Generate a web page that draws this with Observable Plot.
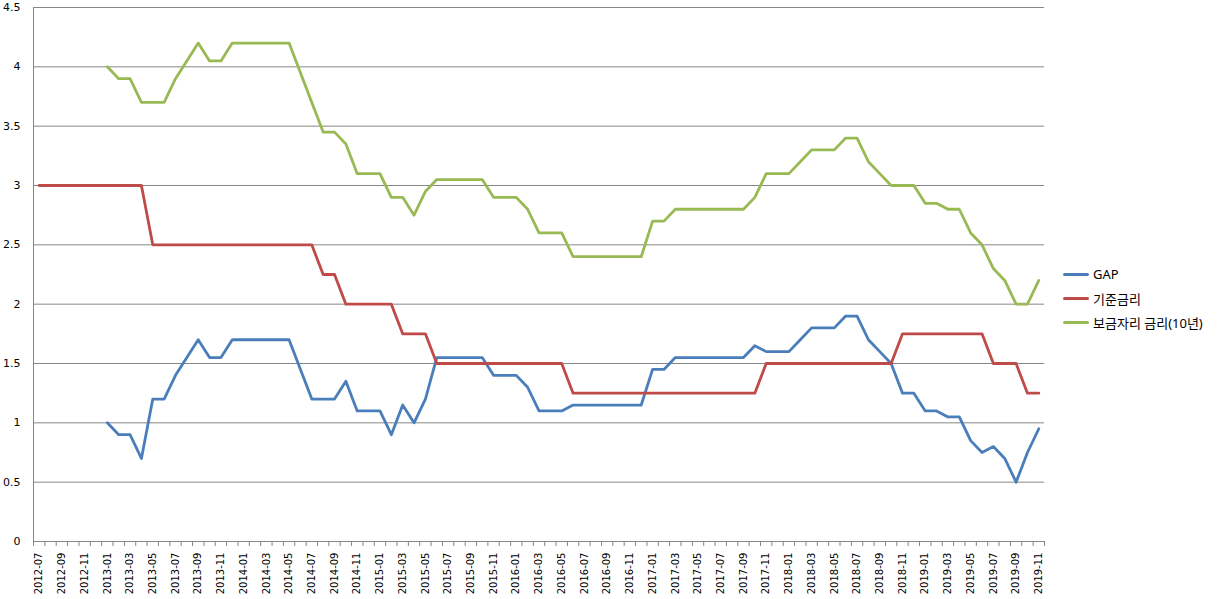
<!DOCTYPE html>
<html><head><meta charset="utf-8">
<script src="https://cdn.jsdelivr.net/npm/d3@7"></script>
<script src="https://cdn.jsdelivr.net/npm/@observablehq/plot@0.6"></script>
<style>
body{margin:0;background:#fff;}
#wrap{position:relative;width:1219px;height:599px;font-family:"DejaVu Sans","Noto Sans CJK KR",sans-serif;}
#legend{position:absolute;left:1063px;top:262px;font-size:13px;color:#000;font-family:"Noto Sans","Noto Sans CJK KR",sans-serif;}
.row{display:flex;align-items:center;height:24px;white-space:nowrap;}
.sw{width:26px;height:3px;margin-right:4px;border-radius:1.5px;}
</style></head><body><div id="wrap"><div id="legend"></div></div>
<script>
const months = [
"2012-07","2012-08","2012-09","2012-10","2012-11","2012-12",
"2013-01","2013-02","2013-03","2013-04","2013-05","2013-06","2013-07","2013-08","2013-09","2013-10","2013-11","2013-12",
"2014-01","2014-02","2014-03","2014-04","2014-05","2014-06","2014-07","2014-08","2014-09","2014-10","2014-11","2014-12",
"2015-01","2015-02","2015-03","2015-04","2015-05","2015-06","2015-07","2015-08","2015-09","2015-10","2015-11","2015-12",
"2016-01","2016-02","2016-03","2016-04","2016-05","2016-06","2016-07","2016-08","2016-09","2016-10","2016-11","2016-12",
"2017-01","2017-02","2017-03","2017-04","2017-05","2017-06","2017-07","2017-08","2017-09","2017-10","2017-11","2017-12",
"2018-01","2018-02","2018-03","2018-04","2018-05","2018-06","2018-07","2018-08","2018-09","2018-10","2018-11","2018-12",
"2019-01","2019-02","2019-03","2019-04","2019-05","2019-06","2019-07","2019-08","2019-09","2019-10","2019-11"
];
const gap = [
null,null,null,null,null,null,
1.0,0.9,0.9,0.7,1.2,1.2,1.4,1.55,1.7,1.55,1.55,1.7,
1.7,1.7,1.7,1.7,1.7,1.45,1.2,1.2,1.2,1.35,1.1,1.1,
1.1,0.9,1.15,1.0,1.2,1.55,1.55,1.55,1.55,1.55,1.4,1.4,
1.4,1.3,1.1,1.1,1.1,1.15,1.15,1.15,1.15,1.15,1.15,1.15,
1.45,1.45,1.55,1.55,1.55,1.55,1.55,1.55,1.55,1.65,1.6,1.6,
1.6,1.7,1.8,1.8,1.8,1.9,1.9,1.7,1.6,1.5,1.25,1.25,
1.1,1.1,1.05,1.05,0.85,0.75,0.8,0.7,0.5,0.75,0.95
];
const baseRate = [
3.0,3.0,3.0,3.0,3.0,3.0,
3.0,3.0,3.0,3.0,2.5,2.5,2.5,2.5,2.5,2.5,2.5,2.5,
2.5,2.5,2.5,2.5,2.5,2.5,2.5,2.25,2.25,2.0,2.0,2.0,
2.0,2.0,1.75,1.75,1.75,1.5,1.5,1.5,1.5,1.5,1.5,1.5,
1.5,1.5,1.5,1.5,1.5,1.25,1.25,1.25,1.25,1.25,1.25,1.25,
1.25,1.25,1.25,1.25,1.25,1.25,1.25,1.25,1.25,1.25,1.5,1.5,
1.5,1.5,1.5,1.5,1.5,1.5,1.5,1.5,1.5,1.5,1.75,1.75,
1.75,1.75,1.75,1.75,1.75,1.75,1.5,1.5,1.5,1.25,1.25
];
const bogeumjari = [
null,null,null,null,null,null,
4.0,3.9,3.9,3.7,3.7,3.7,3.9,4.05,4.2,4.05,4.05,4.2,
4.2,4.2,4.2,4.2,4.2,3.95,3.7,3.45,3.45,3.35,3.1,3.1,
3.1,2.9,2.9,2.75,2.95,3.05,3.05,3.05,3.05,3.05,2.9,2.9,
2.9,2.8,2.6,2.6,2.6,2.4,2.4,2.4,2.4,2.4,2.4,2.4,
2.7,2.7,2.8,2.8,2.8,2.8,2.8,2.8,2.8,2.9,3.1,3.1,
3.1,3.2,3.3,3.3,3.3,3.4,3.4,3.2,3.1,3.0,3.0,3.0,
2.85,2.85,2.8,2.8,2.6,2.5,2.3,2.2,2.0,2.0,2.2
];
const seriesNames = ["GAP","기준금리","보금자리 금리(10년)"];
const seriesColors = ["#4A7EBB","#BE4B48","#98B954"];
const yTicks = [0,0.5,1,1.5,2,2.5,3,3.5,4,4.5];

const rows = [];
[gap, baseRate, bogeumjari].forEach((arr, s) =>
  arr.forEach((v, i) => rows.push({i, v, s: seriesNames[s]})));

const boundaries = d3.range(0, months.length + 1).map(k => k - 0.5);
const labelIdx = d3.range(0, months.length, 2);

const chart = Plot.plot({
  width: 1219, height: 599,
  marginLeft: 33, marginRight: 175, marginTop: 7, marginBottom: 58,
  x: {type: "linear", domain: [-0.5, months.length - 0.5]},
  y: {domain: [0, 4.5]},
  color: {domain: seriesNames, range: seriesColors},
  style: {fontFamily: "DejaVu Sans, Noto Sans CJK KR, sans-serif", fontSize: "10px", color: "#000", background: "#fff", overflow: "visible"},
  marks: [
    Plot.ruleY(yTicks, {stroke: "#868686", strokeOpacity: 1}),
    Plot.ruleX([-0.5], {stroke: "#868686", strokeOpacity: 1}),
    Plot.axisY({ticks: yTicks, tickSize: 0, tickPadding: 13, tickFormat: d => String(d), fontSize: 11, label: null}),
    Plot.axisX({ticks: boundaries, tickSize: 5, tickFormat: () => "", stroke: "#868686", strokeOpacity: 1, label: null}),
    Plot.axisX({ticks: labelIdx, tickSize: 0, tickPadding: 11, tickRotate: -90, tickFormat: i => months[i], fontSize: 10, label: null}),
    Plot.lineY(rows, {x: "i", y: "v", z: "s", stroke: "s", strokeWidth: 2.8, strokeLinejoin: "round", strokeLinecap: "round"})
  ]
});
document.getElementById("wrap").prepend(chart);

const legend = document.getElementById("legend");
seriesNames.forEach((name, k) => {
  const row = document.createElement("div");
  row.className = "row";
  const sw = document.createElement("span");
  sw.className = "sw";
  sw.style.background = seriesColors[k];
  const t = document.createElement("span");
  t.textContent = name;
  row.append(sw, t);
  legend.append(row);
});
</script>
</body></html>
